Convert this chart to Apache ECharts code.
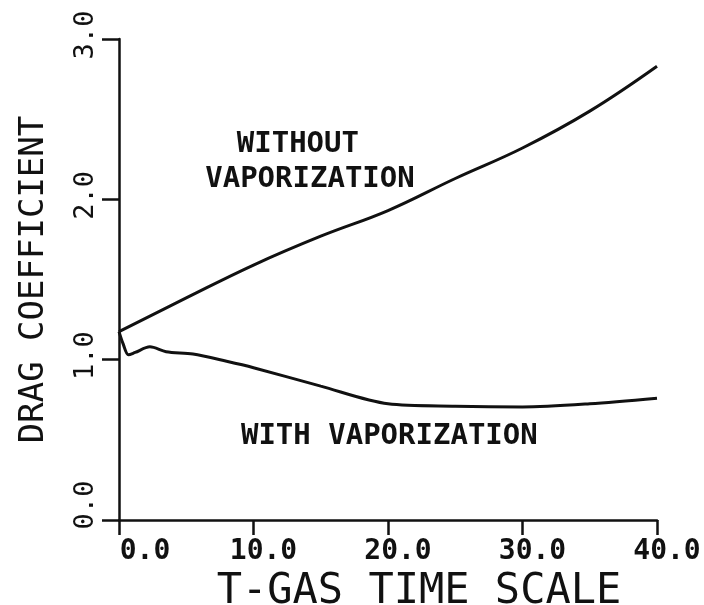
<!DOCTYPE html>
<html>
<head>
<meta charset="utf-8">
<script src="https://cdn.jsdelivr.net/npm/echarts@6/dist/echarts.min.js"></script>
<style>
  html, body { margin: 0; padding: 0; background: #fff; }
  #chart { width: 704px; height: 605px; }
</style>
</head>
<body>
<div id="chart"></div>
<script>
  // drag coefficient vs T-gas time scale
  const withoutVap = [
    [0, 1.175], [5, 1.385], [10, 1.59], [15, 1.77], [20, 1.93],
    [25, 2.13], [30, 2.32], [35, 2.55], [40, 2.83]
  ];
  const withVap = [
    [0, 1.175], [0.3, 1.1], [0.7, 1.03], [1.2, 1.045], [2.3, 1.08], [3.5, 1.05],
    [5.5, 1.035], [8, 0.99], [10, 0.95], [15, 0.835], [20, 0.725], [25, 0.71],
    [30, 0.705], [35, 0.725], [40, 0.76]
  ];
  const xTicks = [0, 10, 20, 30, 40];
  const yTicks = [0, 1, 2, 3];
  const labelsWithout = [['WITHOUT', 13.3, 2.34], ['VAPORIZATION', 14.2, 2.125]];
  const labelsWith = [['WITH VAPORIZATION', 20.1, 0.52]];

  const font = "'DejaVu Sans Mono', 'Liberation Mono', monospace";
  const ink = '#111';

  const chart = echarts.init(document.getElementById('chart'));

  const notes = (list) => ({
    symbol: 'circle',
    symbolSize: 1,
    silent: true,
    itemStyle: { color: 'rgba(0,0,0,0)' },
    label: {
      show: true,
      position: 'inside',
      formatter: (p) => p.name,
      color: ink,
      fontFamily: font,
      fontSize: 29,
      fontWeight: 'bold'
    },
    data: list.map((d) => ({ name: d[0], coord: [d[1], d[2]] }))
  });

  const option = {
    backgroundColor: '#fff',
    animation: false,
    grid: { left: 119, right: 47, top: 39, bottom: 85, outerBoundsMode: 'none' },
    xAxis: {
      type: 'value',
      min: 0,
      max: 40,
      interval: 10,
      name: 'T-GAS TIME SCALE',
      nameLocation: 'middle',
      nameGap: 32,
      nameTextStyle: {
        color: ink, fontFamily: font, fontSize: 42, padding: [0, 0, 0, 62]
      },
      axisLine: { lineStyle: { color: ink, width: 2.5 } },
      axisTick: { inside: false, length: 15, lineStyle: { color: ink, width: 2.5 } },
      axisLabel: {
        margin: 18,
        color: ink,
        fontFamily: font,
        fontSize: 28,
        fontWeight: 'bold',
        formatter: (v) => xTicks.includes(v)
          ? (v === 0 ? '{z|' + v.toFixed(1) + '}' : '{a|' + v.toFixed(1) + '}')
          : '',
        rich: {
          z: { fontFamily: font, fontSize: 28, fontWeight: 'bold', color: ink, padding: [0, 0, 0, 52] },
          a: { fontFamily: font, fontSize: 28, fontWeight: 'bold', color: ink, padding: [0, 0, 0, 20] }
        }
      },
      splitLine: { show: false }
    },
    yAxis: {
      type: 'value',
      min: 0,
      max: 3,
      interval: 1,
      name: 'DRAG COEFFICIENT',
      nameLocation: 'middle',
      nameRotate: 90,
      nameGap: 68,
      nameTextStyle: { color: ink, fontFamily: font, fontSize: 34 },
      axisLine: { show: true, lineStyle: { color: ink, width: 2.5 } },
      axisTick: { show: true, inside: false, length: 17, lineStyle: { color: ink, width: 2.5 } },
      axisLabel: {
        rotate: 90,
        margin: 20,
        color: ink,
        fontFamily: font,
        fontSize: 27,
        formatter: (v) => yTicks.includes(v)
          ? (v === 0 ? '{z|' + v.toFixed(1) + '}' : '{a|' + v.toFixed(1) + '}')
          : '',
        rich: {
          z: { fontFamily: font, fontSize: 27, color: ink, padding: [0, 0, 0, 30] },
          a: { fontFamily: font, fontSize: 27, color: ink, padding: [0, 0, 0, 8] }
        }
      },
      splitLine: { show: false }
    },
    series: [
      {
        name: 'without vaporization',
        type: 'line',
        data: withoutVap,
        showSymbol: false,
        smooth: 0.4,
        lineStyle: { color: ink, width: 3 },
        markPoint: notes(labelsWithout)
      },
      {
        name: 'with vaporization',
        type: 'line',
        data: withVap,
        showSymbol: false,
        smooth: 0.3,
        lineStyle: { color: ink, width: 3 },
        markPoint: notes(labelsWith)
      }
    ]
  };
  chart.setOption(option);
</script>
</body>
</html>
